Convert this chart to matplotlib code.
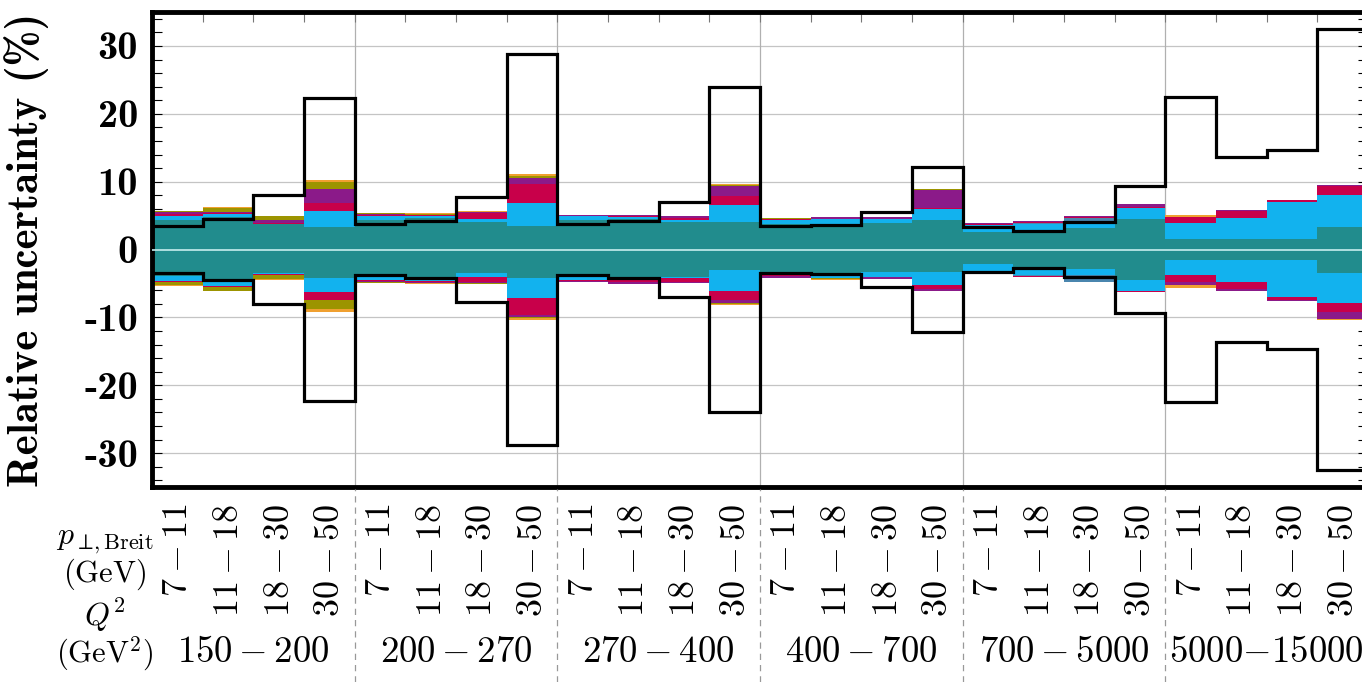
import numpy as np
import matplotlib
matplotlib.use('Agg')
import matplotlib.pyplot as plt
from matplotlib import transforms
from matplotlib.font_manager import FontProperties
from matplotlib.lines import Line2D
import os

plt.rcParams['mathtext.fontset'] = 'cm'
plt.rcParams['axes.unicode_minus'] = False

# Bin labels
q2_groups = ['$150 - 200$', '$200 - 270$', '$270 - 400$', '$400 - 700$',
             '$700 - 5000$', '$5000{-}15000$']
pt_bins = ['$7 - 11$', '$11 - 18$', '$18 - 30$', '$30 - 50$']

# Total (outline) uncertainty per bin, %
stat_tot = [3.5, 4.5, 8.1, 22.3, 3.8, 4.2, 7.7, 28.8, 3.7, 4.2, 7.0, 24.0,
            3.5, 3.6, 5.5, 12.2, 3.3, 2.7, 4.0, 9.3, 22.5, 13.7, 14.6, 32.5]

# Stacked components, upward thicknesses
teal_up = [4.3, 4.8, 3.7, 3.3, 4.4, 4.6, 4.1, 3.5, 4.3, 4.5, 4.05, 4.05,
           3.8, 3.8, 3.95, 4.3, 2.6, 2.6, 3.1, 4.5, 1.6, 1.5, 1.6, 3.3]
blue_up = [0.65, 0.5, 0.1, 2.4, 0.6, 0.3, 0.4, 3.4, 0.6, 0.25, 0.25, 2.55,
           0.6, 0.65, 0.5, 1.7, 1.0, 1.1, 0.95, 1.65, 2.35, 3.2, 5.4, 4.8]
steel_up = [0, 0, 0, 0, 0, 0, 0, 0, 0, 0, 0, 0,
            0, 0, 0, 0, 0, 0.25, 0.65, 0, 0, 0, 0, 0]
crim_up = [0.25, 0.1, 0.1, 1.2, 0.15, 0.15, 0.9, 2.7, 0.1, 0.25, 0.35, 1.3,
           0.05, 0.05, 0.05, 0.15, 0.2, 0.15, 0.15, 0.1, 0.85, 0.95, 0.25, 1.25]
purp_up = [0.3, 0.1, 0.5, 2.0, 0.1, 0.05, 0.15, 0.9, 0.05, 0.1, 0.3, 1.45,
           0.1, 0.3, 0.3, 2.6, 0.15, 0.05, 0.1, 0.45, 0.0, 0.1, 0.1, 0.1]
oliv_up = [0.2, 0.6, 0.5, 1.1, 0.1, 0.2, 0.05, 0.35, 0.05, 0.05, 0.05, 0.2,
           0.05, 0.05, 0.05, 0.1, 0, 0, 0, 0, 0, 0, 0, 0]
orng_up = [0.0, 0.1, 0.1, 0.3, 0.1, 0.1, 0.05, 0.25, 0.05, 0, 0, 0.15,
           0, 0, 0, 0.1, 0, 0, 0, 0, 0.3, 0, 0, 0]

# downward thicknesses
teal_dn = [3.9, 4.6, 3.4, 4.2, 4.1, 4.5, 3.5, 4.25, 4.1, 4.3, 4.0, 3.05,
           3.6, 3.55, 3.3, 3.3, 2.2, 2.8, 2.8, 4.5, 1.55, 1.5, 1.6, 3.4]
blue_dn = [0.7, 0.8, 0.15, 2.0, 0.45, 0.1, 0.5, 2.95, 0.4, 0.05, 0.25, 3.05,
           0.2, 0.6, 0.7, 1.95, 1.1, 1.0, 1.0, 1.6, 2.2, 3.25, 5.4, 4.55]
steel_dn = [0, 0, 0, 0, 0, 0, 0, 0, 0, 0, 0, 0,
            0, 0, 0, 0, 0, 0.15, 0.95, 0, 0, 0, 0, 0]
crim_dn = [0.15, 0.1, 0.15, 1.2, 0.15, 0.2, 0.85, 2.45, 0.15, 0.5, 0.5, 1.35,
           0.05, 0.05, 0.05, 0.5, 0.05, 0.05, 0.05, 0.1, 1.1, 1.0, 0.5, 1.2]
purp_dn = [0.1, 0.05, 0.05, 0.0, 0.1, 0.1, 0.15, 0.3, 0.15, 0.2, 0.15, 0.4,
           0.35, 0.05, 0.3, 0.3, 0.05, 0, 0, 0.1, 0.45, 0.3, 0.1, 1.1]
oliv_dn = [0.45, 0.5, 0.6, 1.4, 0.15, 0.1, 0.05, 0.2, 0.05, 0.05, 0.05, 0.2,
           0.05, 0.15, 0.05, 0.05, 0, 0, 0, 0, 0, 0, 0, 0.05]
orng_dn = [0.05, 0.05, 0.1, 0.4, 0.05, 0.05, 0.05, 0.2, 0, 0, 0, 0.15,
           0, 0.05, 0, 0, 0, 0, 0, 0, 0.3, 0, 0, 0.05]

colors = ['#218c8d', '#12b2ee', '#4a86ae', '#c8004a', '#8b1a89', '#9c9400', '#f0a030']
layers_up = [teal_up, blue_up, steel_up, crim_up, purp_up, oliv_up, orng_up]
layers_dn = [teal_dn, blue_dn, steel_dn, crim_dn, purp_dn, oliv_dn, orng_dn]

n = len(stat_tot)
x = np.arange(n)
edges = np.arange(n + 1)

bold_fp = FontProperties(fname=os.path.join(matplotlib.get_data_path(), 'fonts/ttf/cmb10.ttf'))

fig = plt.figure(figsize=(13.62, 6.82), dpi=100)
ax = fig.add_axes([0.1116, 0.2859, 0.8928, 0.6965])

# grid
for yv in [-30, -20, -10, 10, 20, 30]:
    ax.axhline(yv, color='#c4c4c4', lw=0.9, zorder=0)
for g in range(1, 6):
    ax.axvline(4 * g, color='#b0b0b0', lw=0.9, zorder=0)

# stacked bands
cum = np.zeros(n)
for vals, c in zip(layers_up, colors):
    ax.bar(x, vals, width=1.0, bottom=cum, align='edge', color=c, lw=0, zorder=2)
    cum = cum + np.array(vals)
cum = np.zeros(n)
for vals, c in zip(layers_dn, colors):
    v = -np.array(vals)
    ax.bar(x, v, width=1.0, bottom=cum, align='edge', color=c, lw=0, zorder=2)
    cum = cum + v

ax.axhline(0, color='#c6eeee', lw=1.2, zorder=3)

# outline
tot = np.array(stat_tot)
ax.stairs(tot, edges, baseline=None, color='black', lw=2.3, zorder=4)
ax.stairs(-tot, edges, baseline=None, color='black', lw=2.3, zorder=4)

ax.set_xlim(0, 24)
ax.set_ylim(-35, 35)

for s in ['top', 'left', 'bottom', 'right']:
    ax.spines[s].set_linewidth(3.5)

ax.set_yticks([-30, -20, -10, 0, 10, 20, 30])
ax.set_yticklabels(['-30', '-20', '-10', '0', '10', '20', '30'])
for lbl in ax.get_yticklabels():
    lbl.set_fontproperties(bold_fp)
    lbl.set_fontsize(29)
ax.set_yticks(np.arange(-34, 35, 2), minor=True)
ax.tick_params(axis='y', which='both', direction='in', right=True, length=7, width=0.8, pad=10)
ax.set_xticks(edges, minor=True)
ax.set_xticks([])
ax.tick_params(axis='x', which='minor', direction='in', top=True, bottom=False,
               length=7, width=0.8, color='#777777')

ax.set_ylabel('Relative uncertainty (%)', fontproperties=bold_fp, fontsize=31)
ax.yaxis.set_label_coords(-0.085, 0.5)

# labels below the axis
trans = transforms.blended_transform_factory(ax.transData, fig.transFigure)
for i in range(n):
    ax.text(i + 0.5, 0.262, pt_bins[i % 4], rotation=90, ha='center', va='top',
            fontsize=26, transform=trans)
for g, lab in enumerate(q2_groups):
    ax.text(4 * g + 2, 0.044, lab, ha='center', va='center', fontsize=26.5, transform=trans)
for g in range(1, 6):
    fig.add_artist(Line2D([4 * g, 4 * g], [0.0, 0.283], transform=trans,
                          color='#999999', lw=0.9, ls=(0, (5, 4))))

fig.text(0.077, 0.208, r'$p_{\perp\!,\mathrm{Breit}}$', ha='center', va='center', fontsize=23)
fig.text(0.077, 0.158, r'$(\mathrm{GeV})$', ha='center', va='center', fontsize=22)
fig.text(0.077, 0.098, r'$Q^2$', ha='center', va='center', fontsize=23)
fig.text(0.077, 0.042, r'$(\mathrm{GeV}^2)$', ha='center', va='center', fontsize=22)

fig.savefig('out.png', dpi=100)
